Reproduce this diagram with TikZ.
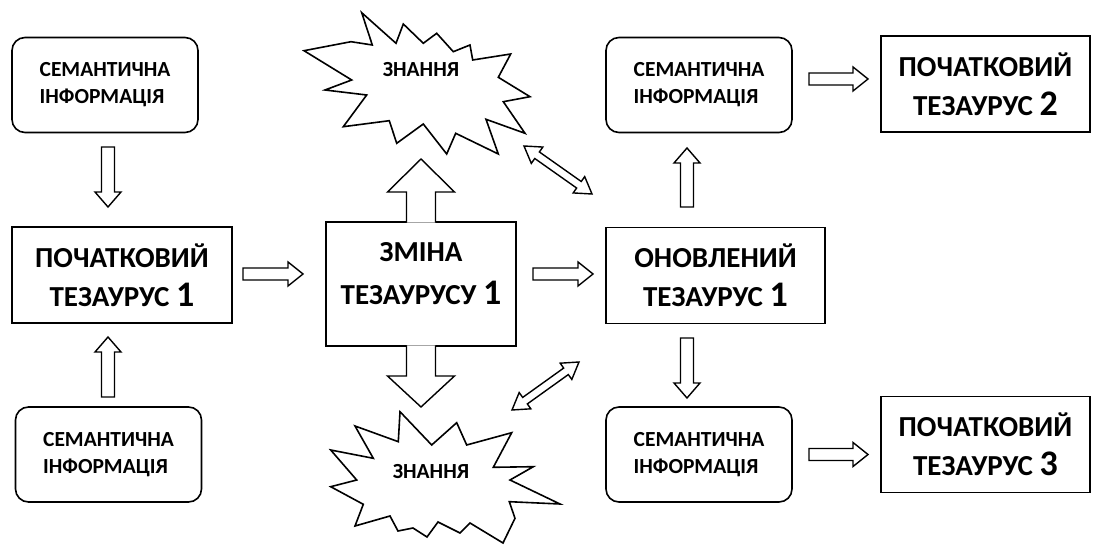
\documentclass[tikz,border=0pt]{standalone}
\usepackage{fontspec}
\setmainfont{Carlito}
\usetikzlibrary{calc}
\tikzset{
  semb/.style={draw, line width=1.6pt, rounded corners=13pt, minimum width=186pt, minimum height=95pt, align=left, font=\fontsize{21.5}{27}\selectfont\bfseries, inner sep=0pt},
  thesb/.style={draw, line width=1.6pt, minimum width=220pt, minimum height=96pt, align=center, font=\fontsize{29}{39}\selectfont\bfseries, inner sep=0pt},
  barrow/.style={draw, line width=1.4pt, fill=white, line join=miter},
  barrowline/.style={draw, line width=1.4pt, line join=miter},
  starshape/.style={draw, line width=1.6pt, fill=white, line join=miter},
  startext/.style={font=\fontsize{21.5}{22}\selectfont\bfseries, inner sep=0pt},
}
\newcommand\bignum[1]{{\fontsize{36}{39}\selectfont #1}}
% block arrow: from, to, shaft half width, head half width, head length
\newcommand\blockarr[5]{%
  \coordinate (bh) at ($(#2)!#5!(#1)$);
  \draw[barrow] ($(#1)!#3!90:(#2)$) -- ($(bh)!#3!90:(#2)$) -- ($(bh)!#4!90:(#2)$) -- (#2) -- ($(bh)!#4!-90:(#2)$) -- ($(bh)!#3!-90:(#2)$) -- ($(#1)!#3!-90:(#2)$) -- cycle;
}
% block arrow growing out of a box border (base edge left open)
\newcommand\blockarropen[5]{%
  \coordinate (bh) at ($(#2)!#5!(#1)$);
  \fill[white] ($(#1)!#3!90:(#2)$) -- ($(bh)!#3!90:(#2)$) -- ($(bh)!#4!90:(#2)$) -- (#2) -- ($(bh)!#4!-90:(#2)$) -- ($(bh)!#3!-90:(#2)$) -- ($(#1)!#3!-90:(#2)$) -- cycle;
  \draw[barrowline] ($(#1)!#3!90:(#2)$) -- ($(bh)!#3!90:(#2)$) -- ($(bh)!#4!90:(#2)$) -- (#2) -- ($(bh)!#4!-90:(#2)$) -- ($(bh)!#3!-90:(#2)$) -- ($(#1)!#3!-90:(#2)$);
}
% double block arrow
\newcommand\dblarr[5]{%
  \coordinate (bha) at ($(#1)!#5!(#2)$);
  \coordinate (bhb) at ($(#2)!#5!(#1)$);
  \draw[barrow] (#1) -- ($(bha)!#4!90:(#2)$) -- ($(bha)!#3!90:(#2)$) -- ($(bhb)!#3!90:(#2)$) -- ($(bhb)!#4!90:(#2)$) -- (#2) -- ($(bhb)!#4!-90:(#2)$) -- ($(bhb)!#3!-90:(#2)$) -- ($(bha)!#3!-90:(#2)$) -- ($(bha)!#4!-90:(#2)$) -- cycle;
}
\begin{document}
\begin{tikzpicture}[x=1pt,y=-1pt]
\useasboundingbox[fill=white] (0,0) rectangle (1093,545);

% boxes
\node[semb] (s1) at (105,85) {СЕМАНТИЧНА\\ІНФОРМАЦІЯ};
\node[semb] (s2) at (108.5,454.5) {СЕМАНТИЧНА\\ІНФОРМАЦІЯ};
\node[thesb] (p1) at (122,275) {ПОЧАТКОВИЙ\\ТЕЗАУРУС \bignum{1}};
\node[thesb, minimum width=190pt, minimum height=124pt, text depth=22pt, font=\fontsize{29}{43}\selectfont\bfseries] (zm) at (421,284) {ЗМІНА\\ТЕЗАУРУСУ \bignum{1}};
\node[thesb, minimum width=219pt] (on) at (715.5,275.5) {ОНОВЛЕНИЙ\\ТЕЗАУРУС \bignum{1}};
\node[semb] (s3) at (699,85) {СЕМАНТИЧНА\\ІНФОРМАЦІЯ};
\node[semb] (s4) at (699,454.5) {СЕМАНТИЧНА\\ІНФОРМАЦІЯ};
\node[thesb, minimum width=209pt] (p2) at (985.5,84) {ПОЧАТКОВИЙ\\ТЕЗАУРУС \bignum{2}};
\node[thesb, minimum width=209pt] (p3) at (985.5,444.5) {ПОЧАТКОВИЙ\\ТЕЗАУРУС \bignum{3}};

% stars
\draw[starshape] (361.7,12.7) -- (396,43.3) -- (403.3,24) -- (423.3,43.3) -- (436.7,33.3) -- (453.3,51.7) -- (470,45) -- (472.7,60) -- (510.7,54) -- (498.3,77.3) -- (530,96.7) -- (503.3,101.7) -- (525,133.3) -- (486,119.3) -- (498.3,154) -- (455.7,133.3) -- (446.7,154) -- (423.3,124) -- (396.7,143.3) -- (389.3,120.7) -- (343.3,126.7) -- (366.7,95) -- (325,90) -- (351.7,80) -- (304,50.7) -- (351,41.7) -- (372.3,45) -- cycle;
\node[startext] (k1) at (421,70) {ЗНАННЯ};

\draw[starshape] (400,411.7) -- (431.7,445) -- (456.7,422.7) -- (466.7,445) -- (511.7,432.7) -- (493.3,467.3) -- (533.3,466.7) -- (510,480) -- (560,504) -- (509.3,501.7) -- (515,518.3) -- (503,543) -- (470,523) -- (460,533) -- (438,522) -- (427,537) -- (413,528) -- (398,531) -- (390,516) -- (355,526) -- (363.3,504.3) -- (330.7,486.7) -- (356.7,480) -- (330.7,450) -- (373.3,458.3) -- (355,426) -- (398.3,441.7) -- cycle;
\node[startext] (k2) at (431,471.5) {ЗНАННЯ};

% arrow end points
\coordinate (a1s) at (108,147); \coordinate (a1e) at (108,207);
\coordinate (a2s) at (108,397); \coordinate (a2e) at (108,337);
\coordinate (a3s) at (687,207); \coordinate (a3e) at (687,148);
\coordinate (a4s) at (687,338); \coordinate (a4e) at (687,398);
\coordinate (h1s) at (243,274); \coordinate (h1e) at (303,274);
\coordinate (h2s) at (533,274); \coordinate (h2e) at (593,274);
\coordinate (h3s) at (809,79);  \coordinate (h3e) at (868,79);
\coordinate (h4s) at (809,454.5); \coordinate (h4e) at (868,454.5);
\coordinate (zu0) at ($(zm.north)+(0,1.5)$); \coordinate (zu1) at (421,159);
\coordinate (zd0) at ($(zm.south)+(0,-1.5)$); \coordinate (zd1) at (421,407);
\coordinate (d1a) at (524,146); \coordinate (d1b) at (592,194);
\coordinate (d2a) at (579,362); \coordinate (d2b) at (512,410);

% arrows
\blockarr{a1s}{a1e}{6.5pt}{13pt}{15pt}
\blockarr{a2s}{a2e}{6.5pt}{13pt}{15pt}
\blockarr{a3s}{a3e}{6.5pt}{13pt}{15pt}
\blockarr{a4s}{a4e}{6.5pt}{13pt}{15pt}
\blockarr{h1s}{h1e}{6pt}{12pt}{15pt}
\blockarr{h2s}{h2e}{6pt}{12pt}{15pt}
\blockarr{h3s}{h3e}{6pt}{12pt}{15pt}
\blockarr{h4s}{h4e}{6pt}{12pt}{15pt}
\blockarropen{zu0}{zu1}{14.5pt}{33.5pt}{33pt}
\blockarropen{zd0}{zd1}{14.5pt}{33.5pt}{31pt}
\dblarr{d1a}{d1b}{4pt}{10pt}{16pt}
\dblarr{d2a}{d2b}{4pt}{10pt}{16pt}
\end{tikzpicture}
\end{document}
